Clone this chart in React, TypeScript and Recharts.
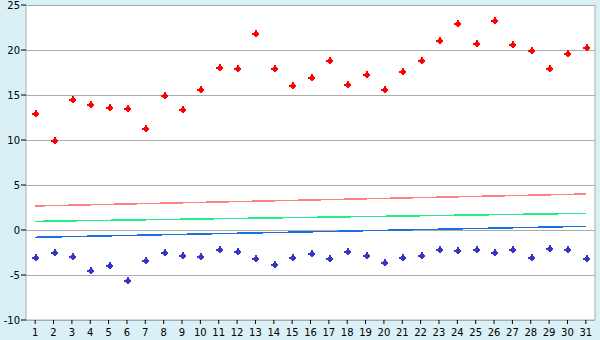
import React from "react";
import { ComposedChart, Line, XAxis, YAxis, CartesianGrid } from "recharts";

const days = ["1","2","3","4","5","6","7","8","9","10","11","12","13","14","15","16","17","18","19","20","21","22","23","24","25","26","27","28","29","30","31"];
const highs = [12.96, 10.0, 14.6, 13.96, 13.63, 13.52, 11.3, 14.96, 13.41, 15.63, 18.07, 17.96, 21.85, 17.96, 16.07, 16.96, 18.85, 16.19, 17.3, 15.63, 17.63, 18.85, 21.07, 22.96, 20.74, 23.3, 20.63, 19.96, 17.96, 19.63, 20.3];
const lows = [-3.04, -2.48, -2.93, -4.48, -3.93, -5.59, -3.37, -2.48, -2.81, -2.93, -2.15, -2.37, -3.15, -3.81, -3.04, -2.59, -3.15, -2.37, -2.81, -3.59, -3.04, -2.81, -2.15, -2.26, -2.15, -2.48, -2.15, -3.04, -2.04, -2.15, -3.15];
// trend lines: value at first day and last day
const redTrend = [2.67, 4.0];
const greenTrend = [0.96, 1.85];
const blueTrend = [-0.81, 0.41];
const yTicks = [-10, -5, 0, 5, 10, 15, 20, 25];

const last = days.length - 1;
const data = days.map((d, i) => ({
  day: d,
  high: highs[i],
  low: lows[i],
  tRed: i === 0 ? redTrend[0] : i === last ? redTrend[1] : null,
  tGreen: i === 0 ? greenTrend[0] : i === last ? greenTrend[1] : null,
  tBlue: i === 0 ? blueTrend[0] : i === last ? blueTrend[1] : null,
}));

const makeMarker = (color: string) => (props: any) => {
  const { cx, cy, index } = props;
  if (cx == null || cy == null || props.value == null) return <g key={index} />;
  const x = Math.round(cx) + 0.5;
  const y = Math.round(cy) + 0.5;
  const d = `M${x - 1},${y - 3.5}L${x + 1},${y - 3.5}L${x + 1},${y - 2}L${x + 2},${y - 2}L${x + 2},${y - 1}L${x + 3.5},${y - 1}L${x + 3.5},${y + 1}L${x + 2},${y + 1}L${x + 2},${y + 2}L${x + 1},${y + 2}L${x + 1},${y + 3.5}L${x - 1},${y + 3.5}L${x - 1},${y + 2}L${x - 2},${y + 2}L${x - 2},${y + 1}L${x - 3.5},${y + 1}L${x - 3.5},${y - 1}L${x - 2},${y - 1}L${x - 2},${y - 2}L${x - 1},${y - 2}Z`;
  return <path key={index} d={d} fill={color} stroke="none" shapeRendering="crispEdges" />;
};

const tickStyle = { fontFamily: "DejaVu Sans", fontSize: 10, fill: "#000" };

export default function App() {
  return (
    <div style={{ position: "absolute", left: 0, top: 0, width: 600, height: 340, background: "#d9f0f7" }}>
      <ComposedChart width={600} height={340} data={data} margin={{ top: 5, right: 0, left: 0, bottom: 0 }}>
        <CartesianGrid vertical={false} stroke="#aaaaaa" fill="#ffffff" shapeRendering="crispEdges" />
        <XAxis
          dataKey="day"
          scale="band"
          interval={0}
          height={20}
          tick={tickStyle}
          tickSize={4}
          tickMargin={5}
          axisLine={{ stroke: "#aaaaaa" }}
          tickLine={{ stroke: "#000" }}
        />
        <YAxis
          domain={[-10, 25]}
          ticks={yTicks}
          width={26}
          tick={tickStyle}
          tickSize={5}
          tickMargin={1}
          axisLine={{ stroke: "#aaaaaa" }}
          tickLine={{ stroke: "#000" }}
          interval={0}
        />
        <YAxis
          yAxisId="r"
          orientation="right"
          domain={[-10, 25]}
          width={5}
          tick={false}
          tickLine={false}
          axisLine={{ stroke: "#aaaaaa" }}
        />
        <Line dataKey="tRed" stroke="#ff8080" strokeWidth={1.5} dot={false} connectNulls isAnimationActive={false} shapeRendering="crispEdges" />
        <Line dataKey="tGreen" stroke="#22ee88" strokeWidth={1.5} dot={false} connectNulls isAnimationActive={false} shapeRendering="crispEdges" />
        <Line dataKey="tBlue" stroke="#1a70e0" strokeWidth={1.5} dot={false} connectNulls isAnimationActive={false} shapeRendering="crispEdges" />
        <Line dataKey="high" stroke="none" dot={makeMarker("#ff0000")} activeDot={false} isAnimationActive={false} />
        <Line dataKey="low" stroke="none" dot={makeMarker("#3535c8")} activeDot={false} isAnimationActive={false} />
      </ComposedChart>
    </div>
  );
}
